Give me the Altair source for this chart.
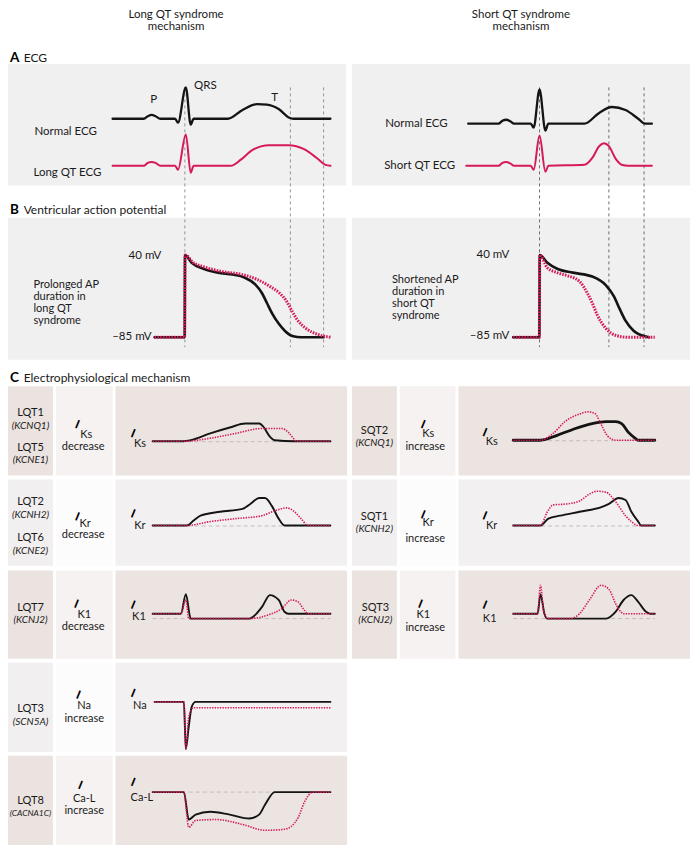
import altair as alt
import pandas as pd

FONT = "Lato"
RED = "#d6195b"
BLACK = "#141414"

# ---------------- panel backgrounds (x1, x2, y1, y2) ----------------
PANELS_AB = [(0, 346, 56, 180), (352, 698, 56, 180), (0, 346, 213, 358), (352, 698, 213, 358)]
LEFT_COLS = [(0, 46), (49, 107), (110, 347)]
RIGHT_COLS = [(352, 398), (401, 458), (461, 698)]
LEFT_ROWS_BEIGE = [(385, 476), (573, 663), (762, 853)]
LEFT_ROWS_GRAY = [(480, 568), (667, 758)]
RIGHT_ROWS_BEIGE = [(385, 476), (573, 663)]
RIGHT_ROWS_GRAY = [(480, 568)]
BEIGE_SHADES = ["#ebe3e0", "#f5f2f1", "#ece4e1"]
GRAY_SHADES = ["#f1eff0", "#fcfcfc", "#f2f0f1"]
PANEL_SHADE = "#f1f0f1"

# ---------------- guide lines ----------------
VLINES_LEFT = [(181, 80, 345), (289, 80, 345), (323, 80, 345)]
VLINES_RIGHT = [(544, 80, 345), (615, 80, 345), (651, 80, 345)]
BASELINES = [(148, 330, 441.5), (148, 330, 527.5), (148, 330, 622), (185, 330, 799),
             (517, 662, 440.5), (517, 662, 527.5), (517, 662, 622)]

# ---------------- A: ECG traces ----------------
ECG_L_NORMAL = [(107, 112), (139, 112), (143, 109.5), (147, 108), (151, 109.5), (156, 112), (171, 112), (174, 116),
                (182, 80), (187, 118), (190, 112), (225, 112), (240, 103), (255, 97), (265, 97.5), (277, 102),
                (288, 111), (292, 112), (330, 112)]
ECG_L_LONG = [(107, 160), (139, 160), (143, 157), (147, 156), (151, 157), (156, 160), (171, 160), (174, 164),
              (182, 128), (187, 167), (190, 160), (228, 160), (238, 154), (250, 144), (267, 139), (287, 139),
              (303, 143), (316, 152), (325, 159), (330, 160)]
ECG_R_NORMAL = [(471, 117), (502, 117), (506, 114), (510, 113), (514, 114.5), (518, 117), (535, 117), (538, 121),
                (544, 82), (550, 124), (553, 117), (590, 117), (605, 106), (618, 100), (632, 103), (645, 112),
                (652, 117), (659, 117)]
ECG_R_SHORT = [(469, 160), (502, 160), (506, 157), (510, 156), (514, 157.5), (518, 160), (535, 160), (538, 164),
               (544, 129), (550, 166), (553, 160), (590, 159), (598, 152), (605, 140), (610, 137), (615, 140),
               (622, 153), (628, 159), (635, 160), (659, 160)]

# ---------------- B: action potentials ----------------
AP_L_BLACK = [(150, 335), (180.8, 335), (181.2, 251), (188, 259), (200, 265), (215, 269), (230, 271), (242, 274),
              (253, 281), (260, 290), (265, 300), (270, 310), (277, 321), (284, 329), (292, 334), (300, 335),
              (323, 335)]
AP_L_RED = [(150, 335), (180.8, 335), (181.2, 251), (190, 259), (200, 263), (220, 268), (240, 271), (255, 276),
            (268, 283), (278, 290), (285, 298), (290, 307), (296, 317), (305, 326), (317, 332), (330, 335)]
AP_R_BLACK = [(517, 335), (543.8, 335), (544.2, 251), (552, 259), (562, 265), (578, 269), (598, 273), (612, 282),
              (620, 293), (626, 306), (632, 318), (640, 328), (652, 334), (656, 335)]
AP_R_RED = [(517, 335), (543.8, 335), (544.2, 251), (552, 264), (562, 269), (572, 272), (585, 278), (593, 290),
            (598, 300), (603, 312), (612, 326), (622, 333), (635, 335), (662, 335)]

# ---------------- C: ionic currents ----------------
KS_L_BLACK = [(148, 441), (180, 441), (187, 440), (207, 433), (227, 427), (243, 423), (257, 423), (262, 427),
              (267, 435), (273, 440), (293, 441), (330, 441)]
KS_L_RED = [(148, 441), (180, 441), (207, 438), (233, 433), (260, 428), (280, 428), (287, 432), (292, 438),
            (295, 441), (330, 441)]
KR_L_BLACK = [(148, 527), (183, 527), (190, 522), (197, 517), (217, 513), (240, 510), (248, 505), (257, 499),
              (263, 499), (270, 507), (277, 520), (283, 527), (330, 527)]
KR_L_RED = [(148, 527), (183, 527), (207, 523), (233, 520), (260, 517), (273, 512), (285, 509), (292, 512),
            (300, 520), (307, 527), (330, 527)]
K1_L_BLACK = [(148, 617), (177, 617), (182, 597), (187, 622), (247, 622), (260, 610), (268, 598), (277, 603),
              (283, 615), (287, 617), (330, 617)]
K1_L_RED = [(148, 617), (177, 617), (182, 603), (185, 622), (247, 622), (267, 618), (280, 612), (290, 603),
            (297, 605), (303, 613), (307, 617), (330, 617)]
NA_L_BLACK = [(150, 707), (180, 707), (182, 755), (185, 732), (188, 712), (192, 707), (330, 707)]
NA_L_RED = [(150, 707), (180, 707), (182, 755), (185, 722), (190, 713), (330, 713)]
CA_L_BLACK = [(148, 799), (180, 799), (185, 827), (192, 822), (207, 819), (227, 822), (247, 826), (257, 822),
              (263, 812), (273, 799), (330, 799)]
CA_L_RED = [(148, 799), (180, 799), (185, 835), (192, 828), (213, 827), (240, 832), (263, 838), (283, 837),
            (297, 825), (303, 810), (312, 799), (330, 799)]
KS_R_BLACK = [(517, 440), (545, 440), (562, 435), (578, 429), (598, 423), (612, 421), (622, 421), (628, 423),
              (635, 432), (642, 438), (645, 440), (662, 440)]
KS_R_RED = [(517, 440), (545, 440), (558, 433), (570, 421), (583, 414), (594, 411), (601, 413), (607, 424),
            (614, 436), (622, 440), (662, 440)]
KR_R_BLACK = [(517, 527), (545, 527), (553, 520), (565, 517), (585, 513), (608, 508), (615, 505), (625, 499),
              (632, 501), (638, 513), (645, 523), (648, 527), (662, 527)]
KR_R_RED = [(517, 527), (545, 527), (552, 513), (558, 506), (572, 505), (585, 502), (595, 495), (603, 492),
            (612, 493), (622, 503), (632, 517), (638, 523), (645, 527), (662, 527)]
K1_R_BLACK = [(517, 617), (542, 617), (545, 597), (549, 617), (552, 622), (612, 622), (622, 615), (630, 603),
              (638, 598), (645, 605), (653, 615), (657, 617), (662, 617)]
K1_R_RED = [(517, 617), (542, 617), (545, 588), (548, 613), (552, 622), (575, 622), (585, 617), (595, 603),
            (607, 588), (615, 592), (622, 607), (627, 615), (630, 617), (662, 617)]

# ---------------- texts (x, y, text) ----------------
TITLES = [(172, 6, "Long QT syndrome"), (172, 18.5, "mechanism"),
          (525, 6, "Short QT syndrome"), (525, 18.5, "mechanism")]
SECTION_LETTERS = [(2, 50, "A"), (2, 205, "B"), (2, 376, "C")]
SECTION_NAMES = [(16, 50, "ECG"), (16, 205, "Ventricular action potential"),
                 (16, 376, "Electrophysiological mechanism")]
ECG_NAMES = [(27, 125, "Normal ECG"), (26, 167, "Long QT ECG"), (386, 117, "Normal ECG"), (385, 160, "Short QT ECG")]
AP_NOTES = [(26, 282, "Prolonged AP"), (26, 294, "duration in"), (26, 306, "long QT"), (26, 318, "syndrome"),
            (393, 277, "Shortened AP"), (393, 289, "duration in"), (393, 301, "short QT"), (393, 313, "syndrome")]
MV_LABELS = [(157, 252, "40 mV"), (147, 335, "–85 mV"), (513, 251, "40 mV"), (513, 334, "–85 mV")]
WAVE_LABELS = [(149, 93, "P"), (202, 79, "QRS"), (273, 91, "T")]
SYNDROMES = [(23, 412, "LQT1"), (23, 448, "LQT5"), (23, 503, "LQT2"), (23, 540, "LQT6"), (23, 611, "LQT7"),
             (23, 714, "LQT3"), (23, 808, "LQT8"), (375, 431, "SQT2"), (375, 518, "SQT1"), (376, 611, "SQT3")]
GENES = [(23, 425, "(KCNQ1)"), (23, 460, "(KCNE1)"), (23, 516, "(KCNH2)"), (23, 553, "(KCNE2)"),
         (23, 623, "(KCNJ2)"), (23, 727, "(SCN5A)"), (375, 443, "(KCNQ1)"), (375, 531, "(KCNH2)"),
         (376, 623, "(KCNJ2)")]
GENES_SMALL = [(23, 820, "(CACNA1C)")]
CURRENT_I = [(71, 424), (71, 518), (70, 607), (72, 700), (74, 792), (425, 424), (425, 516), (422, 607),
             (128, 433), (128, 515), (128, 608), (128, 698), (128, 789), (488, 432), (488, 517), (488, 608)]
CURRENT_SUB = [(80, 435, "Ks"), (79, 525, "Kr"), (78, 618, "K1"), (78, 711, "Na"), (78, 806, "Ca-L"),
               (430, 434, "Ks"), (430, 524, "Kr"), (425, 618, "K1"),
               (135, 444, "Ks"), (135, 528, "Kr"), (134, 620, "K1"), (135, 711, "Na"), (137, 805, "Ca-L"),
               (495, 442, "Ks"), (495, 528, "Kr"), (493, 622, "K1")]
CHANGES = [(77, 447, "decrease"), (77, 537, "decrease"), (77, 631, "decrease"), (78, 724, "increase"),
           (78, 818, "increase"), (427, 447, "increase"), (427, 541, "increase"), (427, 632, "increase")]

# ---------------- scales ----------------
XS = alt.Scale(domain=[0, 698], nice=False, zero=False)
YS = alt.Scale(domain=[0, 853], nice=False, zero=False, reverse=True)


def X(f="x"):
    return alt.X(f"{f}:Q", scale=XS, axis=None)


def Y(f="y"):
    return alt.Y(f"{f}:Q", scale=YS, axis=None)


# backgrounds
rects = [dict(x=a, x2=b, y=c, y2=d, c=PANEL_SHADE) for a, b, c, d in PANELS_AB]
for rows, cols, shades in [(LEFT_ROWS_BEIGE, LEFT_COLS, BEIGE_SHADES), (LEFT_ROWS_GRAY, LEFT_COLS, GRAY_SHADES),
                           (RIGHT_ROWS_BEIGE, RIGHT_COLS, BEIGE_SHADES), (RIGHT_ROWS_GRAY, RIGHT_COLS, GRAY_SHADES)]:
    for (y1, y2) in rows:
        for (x1, x2), s in zip(cols, shades):
            rects.append(dict(x=x1, x2=x2, y=y1, y2=y2, c=s))
bg = alt.Chart(pd.DataFrame(rects)).mark_rect().encode(
    x=X(), x2="x2:Q", y=Y(), y2="y2:Q", color=alt.Color("c:N", scale=None))


def vrules(items, color):
    return alt.Chart(pd.DataFrame([dict(x=a, y=b, y2=c) for a, b, c in items])).mark_rule(
        color=color, strokeWidth=0.8, strokeDash=[3, 3]).encode(x=X(), y=Y(), y2="y2:Q")


vl = vrules(VLINES_LEFT, "#7a7a7a")
vr = vrules(VLINES_RIGHT, "#4a4a4a")
bl = alt.Chart(pd.DataFrame([dict(x=a, x2=b, y=c) for a, b, c in BASELINES])).mark_rule(
    color="#c4bcba", strokeWidth=1, strokeDash=[4, 3]).encode(x=X(), x2="x2:Q", y=Y())


def lines(curves, color, width, dash=None, interp="monotone"):
    rows = []
    for cid, pts in enumerate(curves):
        for k, (x, y) in enumerate(pts):
            rows.append(dict(x=x, y=y, i=k, id=cid))
    kw = dict(color=color, strokeWidth=width, interpolate=interp, strokeJoin="round")
    if dash:
        kw["strokeDash"] = dash
    else:
        kw["strokeCap"] = "round"
    return alt.Chart(pd.DataFrame(rows)).mark_line(**kw).encode(
        x=X(), y=Y(), detail="id:N", order="i:Q")


ecg_black = lines([ECG_L_NORMAL, ECG_R_NORMAL], BLACK, 2.3)
ecg_red = lines([ECG_L_LONG, ECG_R_SHORT], RED, 2.0)
ap_black = lines([AP_L_BLACK, AP_R_BLACK], BLACK, 2.6)
ap_red = lines([AP_L_RED, AP_R_RED], RED, 3.0, dash=[1.6, 1.2])
c_black = lines([KS_L_BLACK, KR_L_BLACK, K1_L_BLACK, NA_L_BLACK, CA_L_BLACK, KR_R_BLACK, K1_R_BLACK], BLACK, 1.9)
c_black_thick = lines([KS_R_BLACK], BLACK, 2.8)
c_red = lines([KS_L_RED, KR_L_RED, K1_L_RED, NA_L_RED, CA_L_RED, KS_R_RED, KR_R_RED, K1_R_RED], RED, 1.6,
              dash=[1.4, 1.2])


def texts(items, **kw):
    rows = [dict(x=a, y=b, t=c) for a, b, c in items]
    base = dict(font=FONT, fontSize=11.5, color="#1a1a1a", baseline="middle", align="left")
    base.update(kw)
    return alt.Chart(pd.DataFrame(rows)).mark_text(**base).encode(x=X(), y=Y(), text="t:N")


layers = [
    bg, vl, vr, bl,
    ecg_black, ecg_red, ap_black, ap_red, c_black, c_black_thick, c_red,
    texts(TITLES, align="center", fontSize=11.5),
    texts(SECTION_LETTERS, fontSize=13.5, fontWeight="bold", color="#000"),
    texts(SECTION_NAMES, fontSize=12),
    texts(ECG_NAMES),
    texts(AP_NOTES, fontSize=11),
    texts(MV_LABELS, align="right"),
    texts(WAVE_LABELS, align="center"),
    texts(SYNDROMES, align="center", fontSize=11),
    texts(GENES, align="center", fontSize=10, fontStyle="italic"),
    texts(GENES_SMALL, align="center", fontSize=8.5, fontStyle="italic"),
    texts([(a, b, "I") for a, b in CURRENT_I], align="center", fontSize=12, fontWeight="bold", angle=22,
          color="#000"),
    texts(CURRENT_SUB, align="center", fontSize=11),
    texts(CHANGES, align="center", fontSize=11),
]

chart = alt.layer(*layers).properties(
    width=682, height=837, padding=0, background="white",
    autosize=alt.AutoSizeParams(type="fit", contains="padding"),
).configure_view(stroke=None)

chart.save("out.html", embed_options={"renderer": "svg", "actions": False})
